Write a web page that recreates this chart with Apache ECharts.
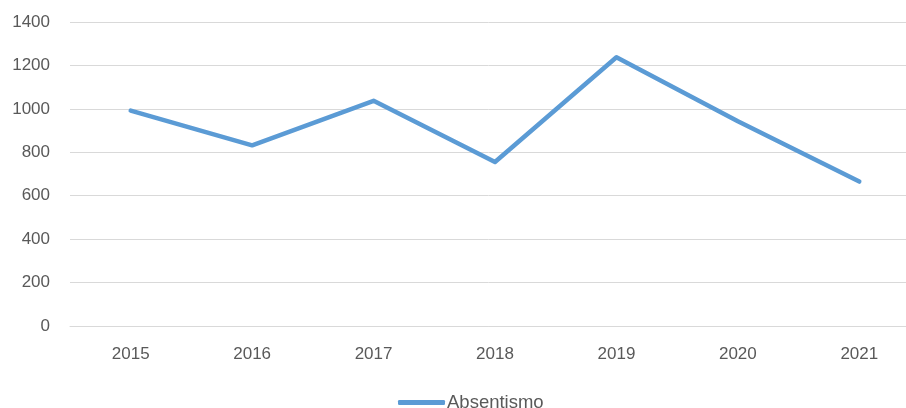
<!DOCTYPE html>
<html>
<head>
<meta charset="utf-8">
<script src="https://cdn.jsdelivr.net/npm/echarts@6/dist/echarts.min.js"></script>
<style>
html,body{margin:0;padding:0;background:#fff;}
#chart{width:906px;height:408px;}
</style>
</head>
<body>
<div id="chart"></div>
<script>
var categories = ['2015', '2016', '2017', '2018', '2019', '2020', '2021'];
var absentismo = [992, 832, 1037, 755, 1238, 943, 665];
var seriesName = 'Absentismo';

var chart = echarts.init(document.getElementById('chart'));
var font = "'Liberation Sans', Arial, sans-serif";
chart.setOption({
  animation: false,
  backgroundColor: '#ffffff',
  grid: { left: 70, width: 850, top: 22, height: 304, containLabel: false, outerBoundsMode: 'none' },
  legend: {
    data: [seriesName],
    left: 393,
    top: 388,
    itemWidth: 47,
    itemHeight: 5,
    itemGap: 0,
    textStyle: { color: '#595959', fontSize: 18.5, fontFamily: font, padding: [0,0,0,-3] },
    icon: 'roundRect'
  },
  xAxis: {
    type: 'category',
    data: categories,
    boundaryGap: true,
    axisLine: { show: true, lineStyle: { color: '#D9D9D9', width: 1 } },
    axisTick: { show: false },
    axisLabel: { color: '#595959', fontSize: 17, fontFamily: font, margin: 20 }
  },
  yAxis: {
    type: 'value',
    min: 0,
    max: 1400,
    interval: 200,
    axisLine: { show: false },
    axisTick: { show: false },
    splitLine: { lineStyle: { color: '#D9D9D9', width: 1 } },
    axisLabel: { color: '#595959', fontSize: 17, fontFamily: font, margin: 20, formatter: function (v) { return String(v); } }
  },
  series: [{
    name: seriesName,
    type: 'line',
    data: absentismo,
    showSymbol: false,
    symbol: 'none',
    lineStyle: { color: '#5B9BD5', width: 4.5, cap: 'round', join: 'round' },
    itemStyle: { color: '#5B9BD5' }
  }]
});
</script>
</body>
</html>
